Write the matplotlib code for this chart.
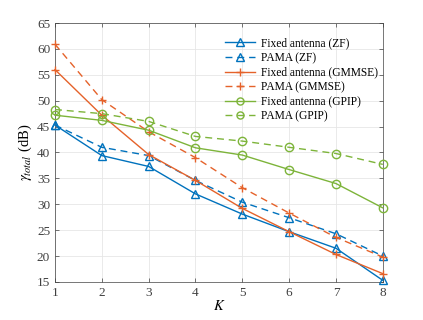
import matplotlib.pyplot as plt
import numpy as np

# Datos
K = [1, 2, 3, 4, 5, 6, 7, 8]
fijo_zf = [45.3, 39.4, 37.3, 32.0, 28.1, 24.7, 21.5, 15.3]
pama_zf = [45.3, 41.0, 39.4, 34.6, 30.4, 27.4, 24.3, 20.0]
fijo_gmmse = [56.0, 47.2, 39.6, 34.6, 29.2, 24.7, 20.3, 16.6]
pama_gmmse = [60.9, 50.2, 44.0, 39.0, 33.2, 28.3, 23.6, 19.8]
fijo_gpip = [47.2, 46.2, 44.3, 40.9, 39.5, 36.7, 34.0, 29.3]
pama_gpip = [48.3, 47.5, 46.0, 43.1, 42.2, 41.0, 39.8, 37.7]

etiquetas = [
    "Fixed antenna (ZF)",
    "PAMA (ZF)",
    "Fixed antenna (GMMSE)",
    "PAMA (GMMSE)",
    "Fixed antenna (GPIP)",
    "PAMA (GPIP)",
]

AZUL = "#0072BD"
NARANJA = "#E5622A"
VERDE = "#7DB43A"

plt.rcParams["font.family"] = ["Liberation Serif", "DejaVu Serif"]
plt.rcParams["mathtext.fontset"] = "stix"

fig = plt.figure(figsize=(4.23, 3.2), dpi=100)
ax = fig.add_axes([0.130, 0.119, 0.775, 0.809])

series = [
    (fijo_zf, AZUL, "-", "^"),
    (pama_zf, AZUL, "--", "^"),
    (fijo_gmmse, NARANJA, "-", "+"),
    (pama_gmmse, NARANJA, "--", "+"),
    (fijo_gpip, VERDE, "-", "o"),
    (pama_gpip, VERDE, "--", "o"),
]
for (valores, color, estilo, marcador), etiqueta in zip(series, etiquetas):
    linea, = ax.plot(
        K, valores, color=color, linestyle=estilo, marker=marcador,
        markersize=6, markerfacecolor="none", markeredgewidth=1.0,
        linewidth=1.0, label=etiqueta, clip_on=False, zorder=3,
    )
    if estilo == "--":
        linea.set_dashes((5, 3.5))

ax.set_xlim(1, 8)
ax.set_ylim(15, 65)
ax.set_xticks(K)
ax.set_yticks(np.arange(15, 66, 5))
ax.grid(True, color="#e6e6e6", linewidth=0.6)
ax.tick_params(direction="in", top=True, right=True, labelsize=9.5,
               colors="#404040", length=3, width=0.5)
for lado in ax.spines.values():
    lado.set_color("#404040")
    lado.set_linewidth(0.5)

ax.set_xlabel("$K$", fontsize=10.5, labelpad=0)
ax.set_ylabel(r"$\gamma_{total}$ (dB)", fontsize=10.5, labelpad=2)

ax.legend(loc="upper right", bbox_to_anchor=(1.0, 0.962), fontsize=8.3,
          frameon=False, handlelength=2.6, labelspacing=0.22,
          borderaxespad=0.0, handletextpad=0.5, markerscale=0.85)

fig.savefig("out.png", dpi=100)
